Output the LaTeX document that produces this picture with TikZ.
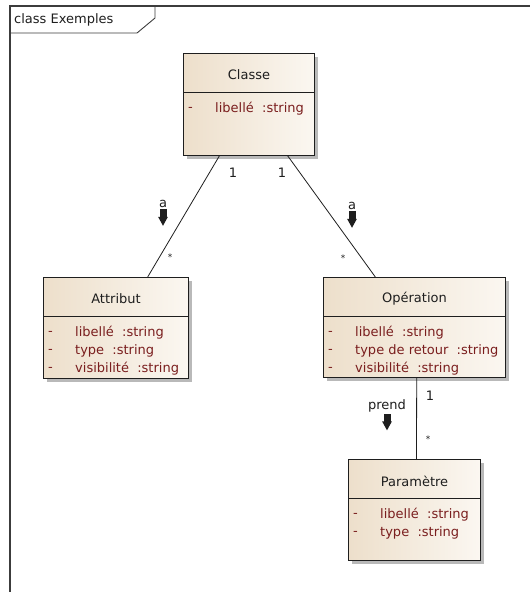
\documentclass[tikz,border=0pt]{standalone}
\usepackage{fontspec}
\setmainfont{DejaVu Sans}
\usetikzlibrary{arrows.meta,calc,shadows}
\definecolor{umlink}{HTML}{1E1E1E}
\definecolor{umlframe}{HTML}{3C3C3C}
\definecolor{umlred}{HTML}{7A1E1E}
\definecolor{umlbeige}{HTML}{EDDFCB}
\definecolor{umlpale}{HTML}{FBF7F1}
\tikzset{
  uml text/.style={font=\fontsize{13}{15}\selectfont, text=umlink},
  uml class/.style={draw=umlink, line width=1pt, left color=umlbeige, right color=umlpale,
    drop shadow={shadow xshift=3pt, shadow yshift=-3pt, fill=black!50, opacity=0.55},
    anchor=north west, inner sep=0pt},
  uml attr/.style={font=\fontsize{13}{15}\selectfont, text=umlred, anchor=west, inner sep=0pt},
  uml link/.style={draw=umlink, line width=0.8pt},
  uml mult/.style={font=\fontsize{13}{15}\selectfont, text=umlink, inner sep=1pt},
  uml star/.style={font=\fontsize{9}{11}\selectfont, text=umlink, inner sep=1pt},
  uml dir/.style={-{Triangle[length=9pt,width=9pt]}, line width=7pt, draw=umlink},
  uml frame/.style={draw=umlframe, line width=1.6pt},
  uml tab/.style={draw=umlframe, line width=0.9pt}
}

\begin{document}
\begin{tikzpicture}[uml text, x=1pt, y=-1pt]
  \useasboundingbox (0,0) rectangle (530,592);
  % frame
  \draw[uml frame] (10,592) -- (10,6) -- (530,6);
  \draw[uml tab] (10,33) -- (137,33) -- (155,18) -- (155,6);
  \node[anchor=west, inner sep=0pt] (frametitle) at (14,20) {class Exemples};

  % classes
  \node[uml class, minimum width=131pt, minimum height=102pt] (classe) at (183,53) {};
  \node[uml class, minimum width=145pt, minimum height=101pt] (attribut) at (43,277) {};
  \node[uml class, minimum width=182pt, minimum height=100pt] (operation) at (323,277) {};
  \node[uml class, minimum width=132pt, minimum height=101pt] (parametre) at (348,459) {};
  \foreach \n/\t in {classe/Classe,attribut/Attribut,operation/Opération,parametre/Paramètre} {
    \draw[draw=umlink, line width=1pt] ($(\n.north west)+(0,39)$) -- ($(\n.north east)+(0,39)$);
    \node (\n-title) at ($(\n.north)+(0,22)$) {\t};
  }
  \foreach \n/\k/\t in {classe/0/{libellé~~:string},
      attribut/0/{libellé~~:string}, attribut/1/{type~~:string}, attribut/2/{visibilité~~:string},
      operation/0/{libellé~~:string}, operation/1/{type de retour~~:string}, operation/2/{visibilité~~:string},
      parametre/0/{libellé~~:string}, parametre/1/{type~~:string}} {
    \node[uml attr] (\n-\k-dash) at ($(\n.north west)+(5,56+18*\k)$) {-};
    \node[uml attr] (\n-\k) at ($(\n.north west)+(32,56+18*\k)$) {\t};
  }

  % associations
  \draw[uml link] ($(classe.south west)!.275!(classe.south east)$) -- ($(attribut.north west)!.717!(attribut.north east)$);
  \draw[uml link] ($(classe.south west)!.794!(classe.south east)$) -- ($(operation.north west)!.286!(operation.north east)$);
  \draw[uml link] ($(operation.south west)!.512!(operation.south east)$) -- ($(parametre.north west)!.515!(parametre.north east)$);

  % multiplicities
  \node[uml mult] (m-ca) at (233,173) {1};
  \node[uml mult] (m-co) at (282,173) {1};
  \node[uml mult] (m-op) at (430,396) {1};
  \node[uml star] (s-at) at (170,257) {*};
  \node[uml star] (s-op) at (343,258) {*};
  \node[uml star] (s-pa) at (428,439) {*};

  % roles and directions
  \node[inner sep=1pt] (r-at) at (163,204) {a};
  \node[inner sep=1pt] (r-op) at (352,206) {a};
  \node[inner sep=1pt] (r-pa) at (387,406) {prend};
  \foreach \r in {r-at,r-op} {\draw[uml dir] (\r.south) -- ++(0,17);}
  \draw[uml dir] ($(r-pa.south)+(0,1)$) -- ++(0,16);
\end{tikzpicture}
\end{document}
